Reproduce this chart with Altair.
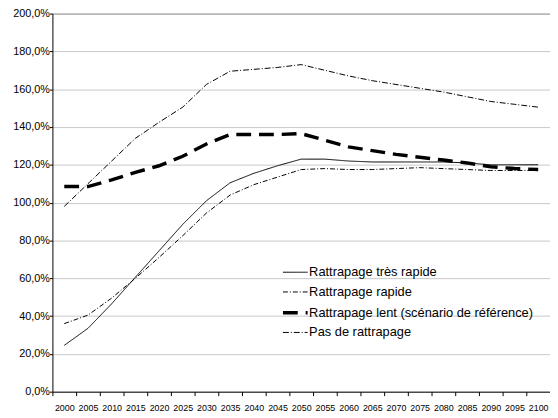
import altair as alt
import pandas as pd

years = list(range(2000, 2101, 5))

series_names = [
    "Rattrapage très rapide",
    "Rattrapage rapide",
    "Rattrapage lent (scénario de référence)",
    "Pas de rattrapage",
]

tres_rapide = [24.5, 33.5, 46.5, 60.5, 74.5, 88.5, 101, 110.5, 115.5, 119.5, 123,
               123, 122, 121.5, 121.5, 121.5, 121.5, 121, 120, 120, 120]
rapide = [36, 40.5, 49.5, 60, 71, 82.5, 94.5, 104, 109.5, 113.5, 117.5,
          118, 117.5, 117.5, 118, 118.5, 118, 117.5, 117, 117, 117]
lent = [108.5, 108.5, 112, 116, 119.5, 124.5, 131, 136, 136, 136, 136.5,
        133, 129.5, 127.5, 125.5, 124, 122.5, 121, 119, 118, 117.5]
pas = [98, 110, 122, 134, 142.5, 150.5, 162.5, 169.5, 170.5, 171.5, 173,
       170, 167, 164.5, 162.5, 160.5, 158.5, 156, 153.5, 152, 150.5]

y_ticks = list(range(0, 201, 20))

rows = []
for name, vals in zip(series_names, [tres_rapide, rapide, lent, pas]):
    for yr, v in zip(years, vals):
        rows.append({"year": yr, "value": v, "serie": name})
df = pd.DataFrame(rows)

FONT = "Liberation Sans"

legend = alt.Legend(
    title=None,
    orient="none",
    legendX=238,
    legendY=255,
    padding=0,
    labelFont=FONT,
    labelFontSize=13,
    labelColor="black",
    labelOffset=6,
    labelLimit=400,
    rowPadding=6,
    symbolType="M-2,0H2",
    symbolSize=156,
    symbolStrokeColor="black",
    symbolFillColor="transparent",
)

chart = alt.Chart(df).mark_line(color="black").encode(
    x=alt.X(
        "year:Q",
        scale=alt.Scale(domain=[1997.5, 2102.5], nice=False, zero=False),
        axis=alt.Axis(
            values=years,
            format="d",
            title=None,
            grid=False,
            tickOffset=-12,
            labelOffset=12,
            tickSize=4,
            tickColor="black",
            domainColor="black",
            labelFont=FONT,
            labelFontSize=9,
            labelColor="black",
            labelPadding=8,
            labelFlush=False,
            labelOverlap=False,
        ),
    ),
    y=alt.Y(
        "value:Q",
        scale=alt.Scale(domain=[0, 200], nice=False),
        axis=alt.Axis(
            values=y_ticks,
            title=None,
            labelExpr="replace(format(datum.value, '.1f'), '.', ',') + '%'",
            gridColor={"condition": {"test": "datum.value == 200", "value": "#808080"}, "value": "#c8c8c8"},
            gridWidth=1,
            tickSize=3,
            tickColor="black",
            domainColor="black",
            labelFont=FONT,
            labelFontSize=11,
            labelColor="black",
            labelPadding=0,
        ),
    ),
    strokeDash=alt.StrokeDash(
        "serie:N",
        scale=alt.Scale(domain=series_names,
                        range=[[1, 0], [5, 2, 1, 2], [15, 8], [6, 2, 1, 2]]),
        legend=legend,
    ),
    strokeWidth=alt.StrokeWidth(
        "serie:N",
        scale=alt.Scale(type="ordinal", domain=series_names, range=[1, 1, 3.5, 1]),
        legend=legend,
    ),
).properties(
    width=504,
    height=383,
    autosize="none",
    padding={"left": 45, "top": 3, "right": 0, "bottom": 22},
).configure_view(stroke=None)

chart.save("out.html", embed_options={"renderer": "svg", "actions": False})
